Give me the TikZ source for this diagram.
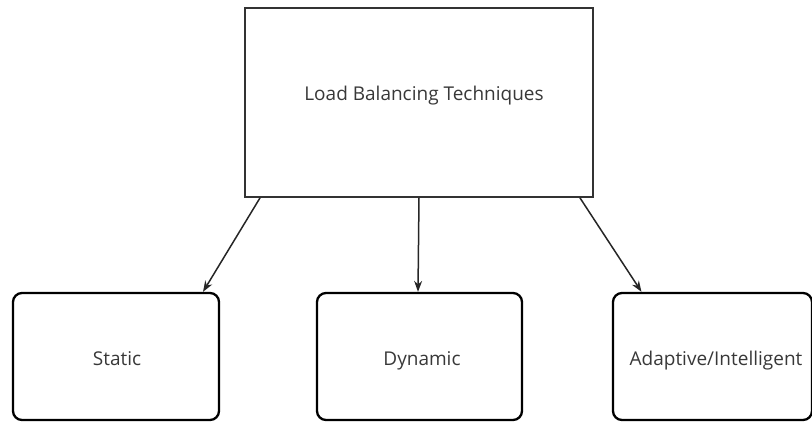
\documentclass[tikz,border=0pt]{standalone}
\usepackage{fontspec}
\setmainfont{Open Sans}
\usetikzlibrary{arrows.meta}
\begin{document}
\begin{tikzpicture}[x=1pt,y=-1pt,
  lbl/.style={font=\fontsize{19}{22}\selectfont, text=black!78, anchor=base},
  topbox/.style={draw=black!80, line width=1.8pt, minimum width=348pt, minimum height=189pt, inner sep=0pt},
  subbox/.style={draw=black, line width=2.3pt, rounded corners=9pt, minimum height=127pt, inner sep=0pt},
  arr/.style={draw=black!85, line width=1.5pt, -{Stealth[length=11pt,width=8pt]}}]
\useasboundingbox (0,0) rectangle (812,424);
\node[topbox] (top) at (419,102.5) {};
\node[lbl] (toplbl) at (424,100) {Load Balancing Techniques};
\node[subbox, minimum width=206pt] (static) at (116,356.5) {};
\node[lbl] (staticlbl) at (117,365) {Static};
\node[subbox, minimum width=205pt] (dynamic) at (419.5,356.5) {};
\node[lbl] (dynamiclbl) at (422,365) {Dynamic};
\node[subbox, minimum width=199pt] (adaptive) at (712.5,356.5) {};
\node[lbl] (adaptivelbl) at (716,365) {Adaptive/Intelligent};
\draw[arr] ([xshift=-159pt]top.south) -- ([xshift=87pt]static.north);
\draw[arr] (top.south) -- ([xshift=-1.5pt]dynamic.north);
\draw[arr] ([xshift=161pt]top.south) -- ([xshift=-71pt]adaptive.north);
\end{tikzpicture}
\end{document}
